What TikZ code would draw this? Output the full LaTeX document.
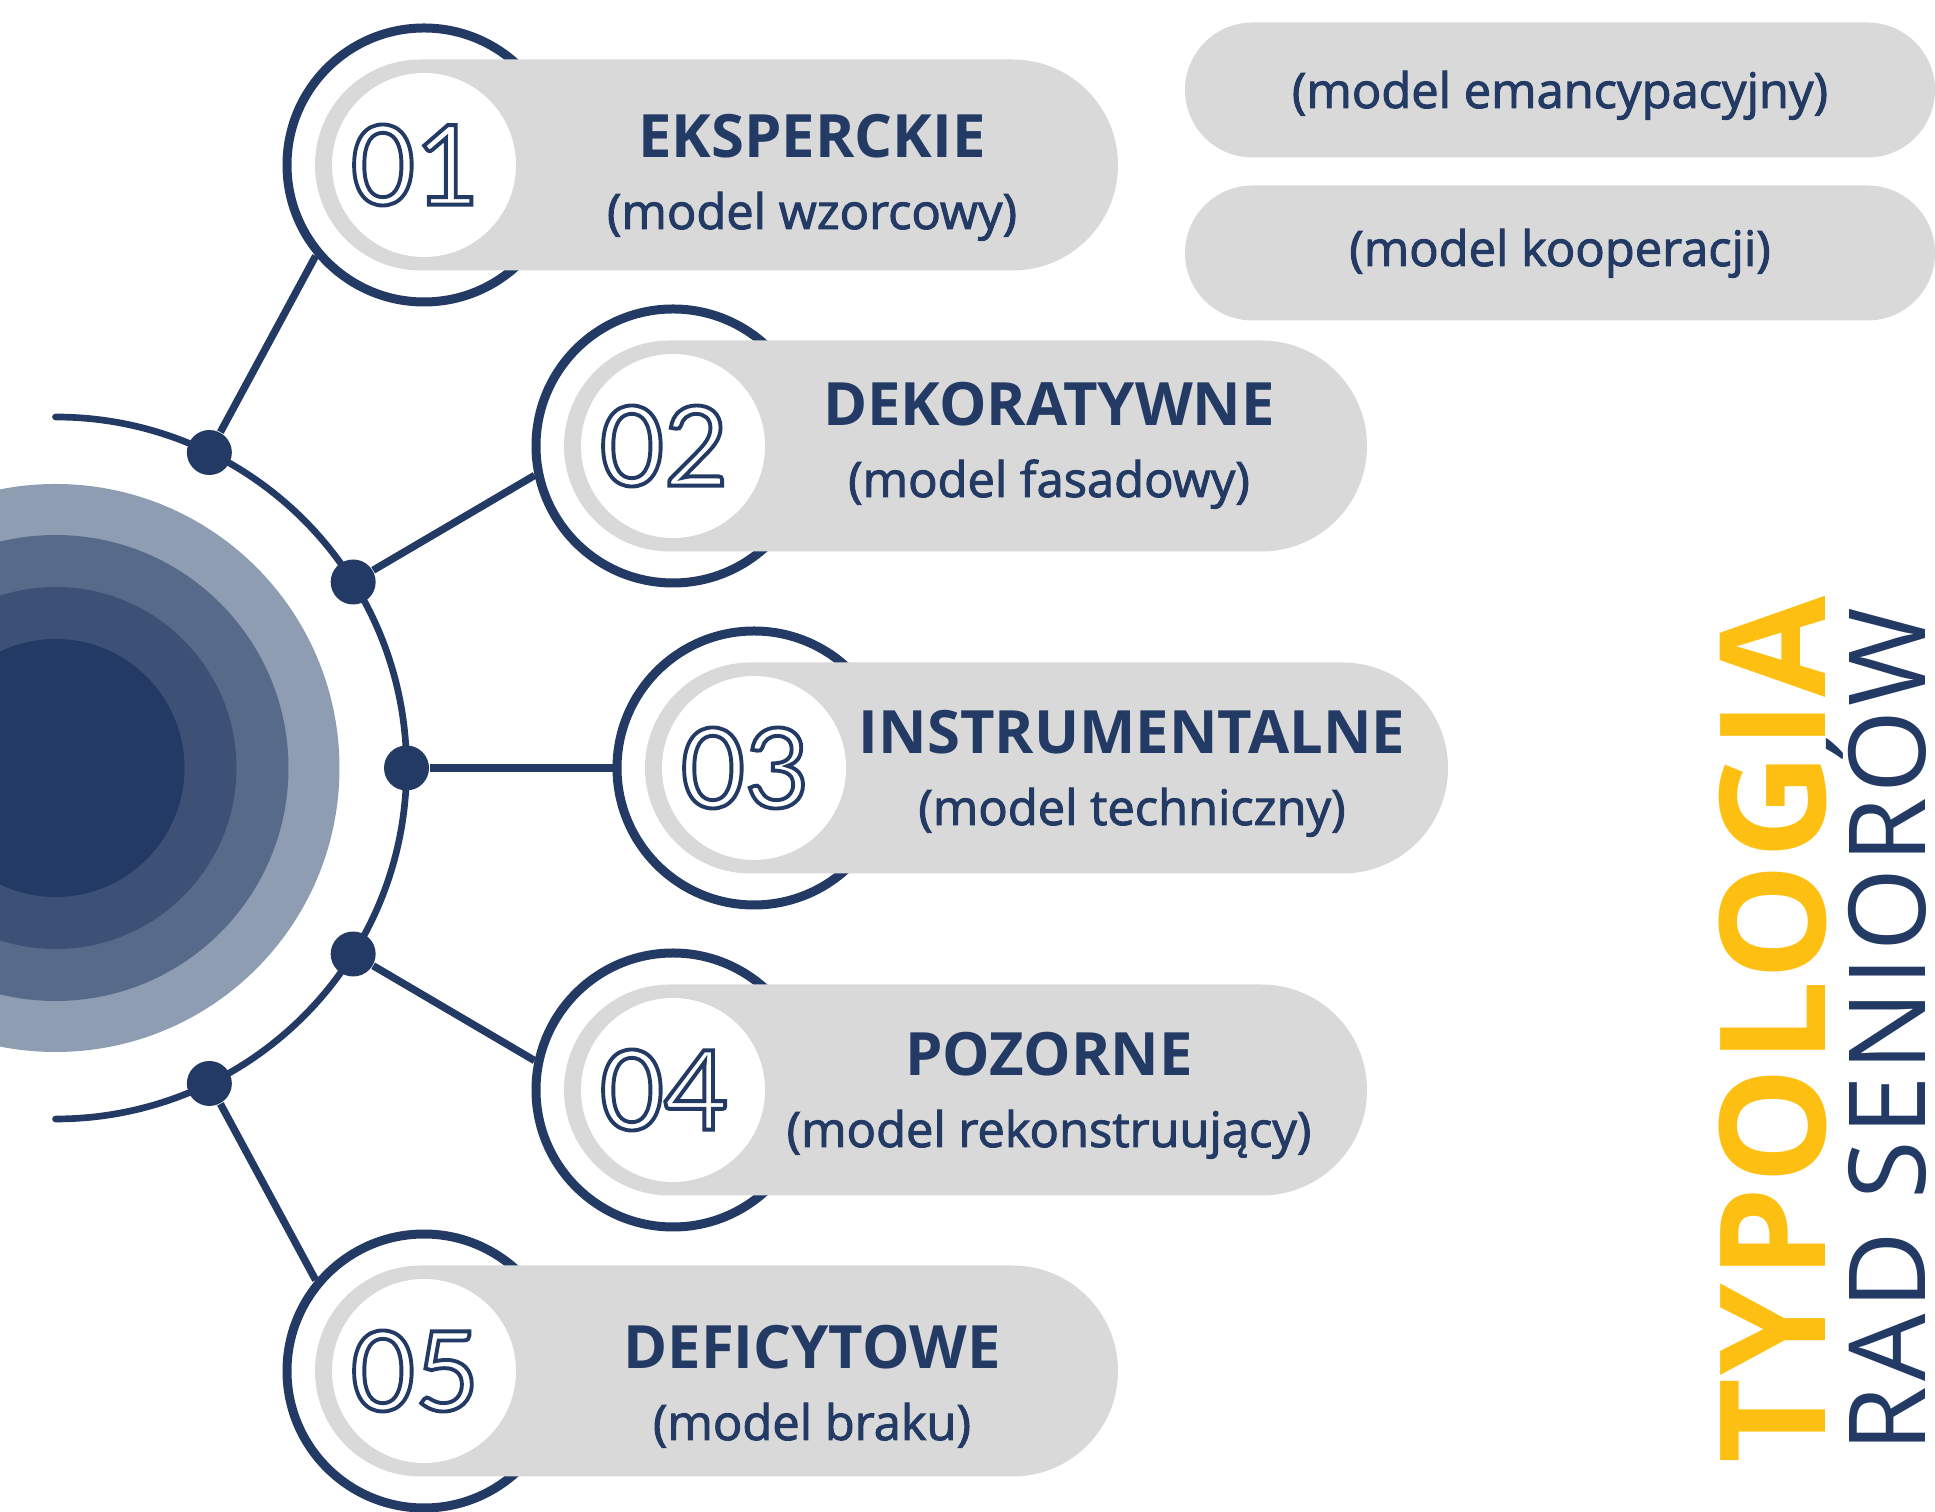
\documentclass[tikz,border=0pt]{standalone}
\usepackage{fontspec}
\setmainfont{Open Sans}
\newfontfamily\numfont{Lato}
\usetikzlibrary{calc}

\definecolor{navy}{HTML}{223A64}
\definecolor{pillgray}{HTML}{D9D9D9}
\definecolor{discA}{HTML}{8F9DB3}
\definecolor{discB}{HTML}{586A8A}
\definecolor{discC}{HTML}{3D5177}
\definecolor{gold}{HTML}{FDBF11}
\newcommand\hollow[1]{\special{pdf:literal direct 1 Tr 1.1 w}#1\special{pdf:literal direct 0 Tr}}

\begin{document}
\begin{tikzpicture}[x=0.1mm,y=0.1mm,
	ring/.style={draw=navy,line width=2.56pt,circle,minimum size=27.4mm,inner sep=0pt},
	pill/.style={fill=pillgray,rounded corners=10.55mm,minimum width=80.3mm,minimum height=21.1mm,inner sep=0pt},
	sidepill/.style={fill=pillgray,rounded corners=6.75mm,minimum width=75mm,minimum height=13.5mm,inner sep=0pt},
	hole/.style={fill=white,circle,minimum size=18.4mm,inner sep=0pt},
	num/.style={font=\numfont\fontsize{31.5}{31.5}\selectfont,text=navy,inner sep=0pt},
	title/.style={font=\bfseries\fontsize{17}{17}\selectfont,text=navy,anchor=base,inner sep=0pt},
	model/.style={font=\addfontfeatures{FakeBold=2}\fontsize{13.9}{13.9}\selectfont,text=navy,anchor=base,inner sep=0pt},
	hub/.style={circle,fill=navy,minimum size=4.5mm,inner sep=0pt},
	link/.style={draw=navy,line width=2.1pt}]
	\useasboundingbox (-55.5,-744) rectangle (1879.5,768);
	\clip (-55.5,-744) rectangle (1879.5,768);
	\fill[discA] (0,0) circle (284);
	\fill[discB] (0,0) circle (233);
	\fill[discC] (0,0) circle (181);
	\fill[navy] (0,0) circle (129);
	\draw[navy,line width=1.9pt,line cap=round] (90:351) arc[start angle=90,end angle=-90,radius=351];
	\foreach \a [count=\i] in {64,32,0,-32,-64} {
		\node[hub] (d\i) at (\a:351) {};
	};
	\foreach \px/\py/\e/\dx/\dy/\tl/\md [count=\i] in {
		368.5/603/220/388/-7/EKSPERCKIE/{(model wzorcowy)},
		617.5/322/192/376/6/DEKORATYWNE/{(model fasadowy)},
		698.5/0/180/378/0/INSTRUMENTALNE/{(model techniczny)},
		617.5/-322/168/376/0/POZORNE/{(model rekonstruujący)},
		368.5/-603/140/388/-12/DEFICYTOWE/{(model braku)}} {
		\node[ring] (r\i) at (\px,\py) {};
		\draw[link] (d\i) -- (r\i.\e);
		\node[pill] (p\i) at ($(r\i)+(292.5,0)$) {};
		\node[hole] (h\i) at (r\i) {};
		\node[num] (n\i) at ($(r\i)+(-9,0)$) {\hollow{0\i}};
		\node[title] (t\i) at ($(r\i)+(\dx,14+\dy)$) {\tl};
		\node[model] (m\i) at ($(r\i)+(\dx,-57+\dy)$) {\md};
	};
	\node[sidepill] (s1) at (1504.5,678) {};
	\node[sidepill] (s2) at (1504.5,515) {};
	\node[model] (sm1) at ($(s1)+(0,-18)$) {(model emancypacyjny)};
	\node[model] (sm2) at ($(s2)+(0,-13)$) {(model kooperacji)};
	\node[rotate=90,anchor=base,inner sep=0pt,text=gold,font=\bfseries\fontsize{41.8}{41.8}\selectfont\addfontfeatures{LetterSpace=2.4}] (typ) at (1770.2,-262) {TYPOLOGIA};
	\node[rotate=90,anchor=base,inner sep=0pt,text=navy,font=\fontsize{30.3}{30.3}\selectfont\addfontfeatures{LetterSpace=4.6}] (rad) at (1869.5,-262) {RAD SENIORÓW};
\end{tikzpicture}
\end{document}
